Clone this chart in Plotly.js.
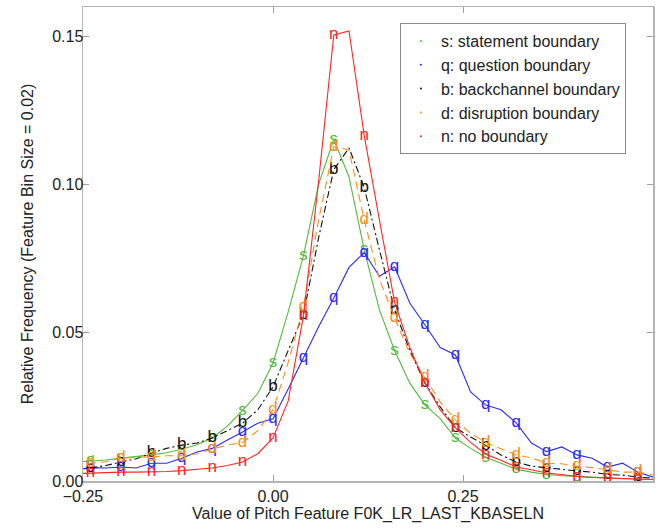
<!DOCTYPE html>
<html>
<head>
<meta charset="utf-8">
<script src="https://cdn.plot.ly/plotly-3.0.1.min.js"></script>
<style>html,body{margin:0;padding:0;background:#fff;}#chart{width:668px;height:530px;}</style>
</head>
<body>
<div id="chart"></div>
<script>
// Bin centres of the pitch feature (bin size 0.02)
const binCenters = [-0.26,-0.24,-0.22,-0.20,-0.18,-0.16,-0.14,-0.12,-0.10,-0.08,-0.06,-0.04,-0.02,
  0.00,0.02,0.04,0.06,0.08,0.10,0.12,0.14,0.16,0.18,0.20,0.22,0.24,0.26,0.28,0.30,0.32,0.34,0.36,
  0.38,0.40,0.42,0.44,0.46,0.48,0.50];

// s: statement boundary
const statementFreq = [0.0064,0.0067,0.0071,0.0077,0.0082,0.0088,0.0095,0.0107,0.0122,0.0145,0.0185,0.0238,0.0295,
  0.0398,0.0570,0.0759,0.1000,0.1152,0.1025,0.0780,0.0577,0.0440,0.0330,0.0256,0.0210,0.0145,0.0110,0.0080,0.0060,
  0.0040,0.0030,0.0022,0.0018,0.0015,0.0012,0.0010,0.0008,0.0006,0.0005];
// q: question boundary
const questionFreq = [0.0037,0.0045,0.0044,0.0047,0.0044,0.0060,0.0060,0.0077,0.0098,0.0110,0.0138,0.0165,0.0195,
  0.0210,0.0310,0.0415,0.0520,0.0617,0.0720,0.0770,0.0690,0.0722,0.0600,0.0526,0.0450,0.0425,0.0300,0.0256,0.0240,
  0.0196,0.0128,0.0099,0.0115,0.0088,0.0077,0.0047,0.0060,0.0030,0.0013];
// b: backchannel boundary
const backchannelFreq = [0.0037,0.0045,0.0052,0.0064,0.0075,0.0094,0.0110,0.0121,0.0128,0.0145,0.0170,0.0195,0.0240,
  0.0317,0.0440,0.0560,0.0820,0.1050,0.1123,0.0990,0.0780,0.0577,0.0440,0.0330,0.0250,0.0180,0.0148,0.0120,0.0088,
  0.0064,0.0050,0.0044,0.0040,0.0034,0.0030,0.0022,0.0020,0.0013,0.0010];
// d: disruption boundary
const disruptionFreq = [0.0047,0.0060,0.0065,0.0077,0.0080,0.0081,0.0085,0.0085,0.0092,0.0108,0.0121,0.0130,0.0170,
  0.0240,0.0400,0.0587,0.0880,0.1127,0.1116,0.0880,0.0680,0.0550,0.0430,0.0350,0.0266,0.0206,0.0160,0.0130,0.0110,
  0.0088,0.0078,0.0060,0.0058,0.0050,0.0045,0.0037,0.0030,0.0030,0.0020];
// n: no boundary
const noBoundaryFreq = [0.0025,0.0027,0.0030,0.0030,0.0030,0.0030,0.0032,0.0035,0.0040,0.0044,0.0052,0.0064,0.0092,
  0.0145,0.0270,0.0556,0.1010,0.1504,0.1517,0.1165,0.0880,0.0603,0.0450,0.0330,0.0240,0.0179,0.0130,0.0090,0.0070,
  0.0047,0.0038,0.0027,0.0022,0.0015,0.0012,0.0010,0.0009,0.0007,0.0005];

const seriesLetters = ['s','q','b','d','n'];
const seriesNames = ['s: statement boundary','q: question boundary','b: backchannel boundary','d: disruption boundary','n: no boundary'];
const xTickVals = [-0.25, 0, 0.25, 0.5];
const yTickVals = [0, 0.05, 0.10, 0.15];

const seriesData = [statementFreq, questionFreq, backchannelFreq, disruptionFreq, noBoundaryFreq];
const colors = ['#55bb3c', '#2b2bff', '#111111', '#ff8c1a', '#ff2626'];
const dashes = ['solid', 'solid', '7px,3px,2px,3px', '8px,5px', 'solid'];

const FONT = 'Liberation Sans, Arial, sans-serif';
const traces = [];
seriesData.forEach((ys, k) => {
  traces.push({
    x: binCenters, y: ys, type: 'scatter', mode: 'lines+text',
    text: binCenters.map((x, i) => (i % 2 === 1 ? seriesLetters[k] : '')),
    textposition: 'middle center',
    textfont: {family: FONT, size: 17, color: colors[k]},
    line: {color: colors[k], width: 1.1, dash: dashes[k]},
    showlegend: false, hoverinfo: 'skip', cliponaxis: true
  });
});
seriesData.forEach((ys, k) => {
  traces.push({
    x: [null], y: [null], type: 'scatter', mode: 'markers',
    marker: {color: colors[k], size: 2},
    name: seriesNames[k], showlegend: true
  });
});

const axisCommon = {
  showgrid: false, zeroline: false, showline: true, linecolor: '#b4b4b4', linewidth: 1.5,
  mirror: 'allticks', ticks: 'inside', ticklen: 6, tickcolor: '#a0a0a0', tickwidth: 1,
  tickfont: {family: FONT, size: 16, color: '#222'}, tickformat: '.2f'
};

const layout = {
  width: 668, height: 530,
  margin: {l: 83, r: 15, t: 7, b: 49},
  paper_bgcolor: '#fff', plot_bgcolor: '#fff',
  font: {family: FONT, size: 16, color: '#222'},
  xaxis: Object.assign({}, axisCommon, {
    range: [-0.25, 0.5], tickvals: xTickVals,
    title: {text: 'Value of Pitch Feature F0K_LR_LAST_KBASELN', font: {family: FONT, size: 16, color: '#222'}, standoff: 4}
  }),
  yaxis: Object.assign({}, axisCommon, {
    range: [0, 0.1598], tickvals: yTickVals, ticklabelstandoff: -5,
    title: {text: 'Relative Frequency (Feature Bin Size = 0.02)', font: {family: FONT, size: 16, color: '#222'}, standoff: 14}
  }),
  legend: {
    x: 0.556, y: 0.966, xanchor: 'left', yanchor: 'top',
    bgcolor: '#fff', bordercolor: '#8a8a8a', borderwidth: 1,
    font: {family: FONT, size: 16, color: '#222'}, tracegroupgap: 0
  },
  showlegend: true
};

Plotly.newPlot('chart', traces, layout, {displayModeBar: false, staticPlot: true});
</script>
</body>
</html>
